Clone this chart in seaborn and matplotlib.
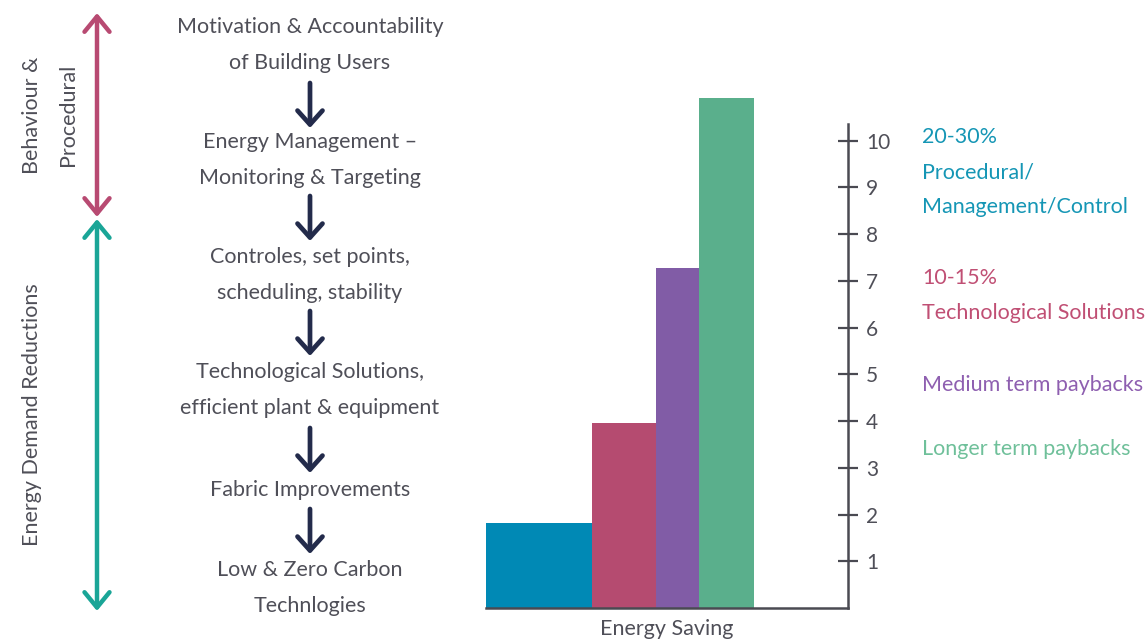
import numpy as np
import pandas as pd
import seaborn as sns
import matplotlib.pyplot as plt

# stepped bars (right hand chart)
bar_names = ["Procedural", "Technological", "Medium term", "Longer term"]
bar_values = [1.82, 3.96, 7.28, 10.92]
bar_widths = [106, 64, 43, 55]
bar_colors = ["#0089b5", "#b54b70", "#815ca6", "#5aaf8c"]
y_ticks = [1, 2, 3, 4, 5, 6, 7, 8, 9, 10]

# hierarchy on the left
steps = [
    "Motivation & Accountability\nof Building Users",
    "Energy Management –\nMonitoring & Targeting",
    "Controles, set points,\nscheduling, stability",
    "Technological Solutions,\nefficient plant & equipment",
    "Fabric Improvements",
    "Low & Zero Carbon\nTechnlogies",
]
side_notes = [
    ["20-30%", "Procedural/", "Management/Control"],
    ["10-15%", "Technological Solutions"],
    ["Medium term paybacks"],
    ["Longer term paybacks"],
]
group_labels = ["Behaviour &\nProcedural", "Energy Demand Reductions"]

sns.set_theme(style="white")
plt.rcParams["font.family"] = ["Lato", "DejaVu Sans"]

txt_gray = "#4f4f58"
axis_gray = "#4a4a52"
navy = "#232b4b"
pink = "#b84a72"
teal = "#1aa597"
fs = 15.5

fig = plt.figure(figsize=(11.45, 6.44), dpi=100)

# overlay in pixel units for the diagram part
ov = fig.add_axes([0, 0, 1, 1])
ov.set_xlim(0, 1145)
ov.set_ylim(644, 0)
ov.axis("off")
ov.patch.set_alpha(0)

# bar chart
ax = fig.add_axes([486 / 1145, 36 / 644, (848 - 486) / 1145, (608 - 94) / 644])
df = pd.DataFrame({"name": bar_names, "value": bar_values})
sns.barplot(data=df, x="name", y="value", hue="name", palette=bar_colors,
            legend=False, width=1, saturation=1, ax=ax)
lefts = np.concatenate([[0], np.cumsum(bar_widths)[:-1]])
for p, l, w in zip(ax.patches, lefts, bar_widths):
    p.set_x(l)
    p.set_width(w)
    p.set_linewidth(0)
    p.set_clip_on(False)
ax.set_xlim(0, 362)
ax.set_ylim(0, 11)
ax.set_xticks([])
ax.set_xlabel("Energy Saving", fontsize=fs, color=txt_gray, labelpad=8)
ax.set_ylabel("")
ax.yaxis.tick_right()
ax.set_yticks(y_ticks)
ax.set_yticklabels([str(t) for t in y_ticks])
ax.tick_params(axis="y", direction="inout", length=14, width=1.6, color=axis_gray,
               labelsize=15, labelcolor=txt_gray, pad=6, right=True)
for s in ["left", "top"]:
    ax.spines[s].set_visible(False)
for s in ["right", "bottom"]:
    ax.spines[s].set_color(axis_gray)
    ax.spines[s].set_linewidth(1.8)
ax.spines["right"].set_bounds(0, 10.35)
ax.patch.set_alpha(0)

# left diagram: steps and arrows
step_y = [45, 160, 275, 390, 490, 588]
for t, y in zip(steps, step_y):
    ov.text(310, y, t, ha="center", va="center", fontsize=fs, color=txt_gray,
            linespacing=2.0)
arrow_spans = [(83, 128), (196, 241), (311, 356), (428, 473), (509, 554)]
for y0, y1 in arrow_spans:
    ov.annotate("", xy=(310, y1), xytext=(310, y0),
                arrowprops=dict(arrowstyle="->,head_length=0.5,head_width=0.45",
                                lw=3.4, color=navy, shrinkA=0, shrinkB=0,
                                mutation_scale=20))

# group arrows
ov.annotate("", xy=(97, 13), xytext=(97, 217),
            arrowprops=dict(arrowstyle="<->,head_length=0.55,head_width=0.45",
                            lw=3.2, color=pink, shrinkA=0, shrinkB=0,
                            mutation_scale=20))
ov.annotate("", xy=(97, 219), xytext=(97, 611),
            arrowprops=dict(arrowstyle="<->,head_length=0.55,head_width=0.45",
                            lw=3.2, color=teal, shrinkA=0, shrinkB=0,
                            mutation_scale=20))
ov.text(50, 115, group_labels[0], rotation=90, ha="center", va="center",
        fontsize=fs, color=txt_gray, linespacing=2.0)
ov.text(32, 415, group_labels[1], rotation=90, ha="center", va="center",
        fontsize=fs, color=txt_gray)

# notes on the right
note_colors = ["#1596b5", "#c04f74", "#8e5fb0", "#6fc09a"]
note_y = [137, 278, 385, 449]
for lines, c, y0 in zip(side_notes, note_colors, note_y):
    for i, line in enumerate(lines):
        ov.text(922, y0 + i * 35, line, ha="left", va="center", fontsize=fs,
                color=c)

fig.savefig("out.png", dpi=100)
